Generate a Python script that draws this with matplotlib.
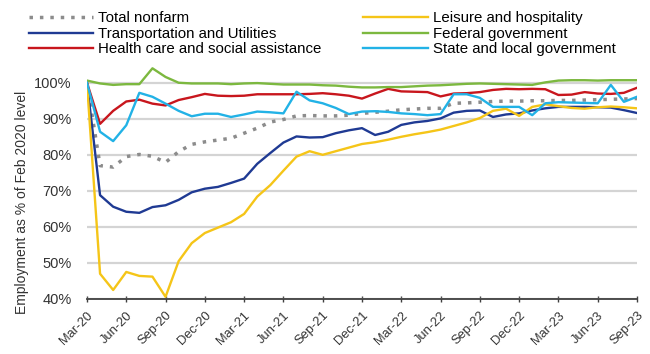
import matplotlib
matplotlib.use("Agg")
import matplotlib.pyplot as plt
import numpy as np

plt.rcParams['font.family'] = ['Liberation Sans', 'DejaVu Sans']

# monthly index, Mar-20 .. Sep-23 (Feb 2020 level = 100)
months = np.arange(43)
tick_labels = ["Mar-20", "Jun-20", "Sep-20", "Dec-20", "Mar-21", "Jun-21", "Sep-21", "Dec-21",
               "Mar-22", "Jun-22", "Sep-22", "Dec-22", "Mar-23", "Jun-23", "Sep-23"]

total_nonfarm = [100, 77, 76.6, 79.5, 80.1, 79.6, 77.9, 80.9, 82.9, 83.6, 84.1, 84.6, 86, 87.4, 89.1,
                 89.8, 90.8, 90.9, 90.8, 90.8, 91, 91.5, 91.8, 92.1, 92.5, 92.7, 92.9, 92.9, 94.3,
                 94.4, 94.6, 94.8, 94.9, 94.9, 95, 95, 95.1, 95.1, 95.2, 95.3, 95.4, 95.5, 95.6]
transport = [100, 68.8, 65.6, 64.2, 63.9, 65.5, 66, 67.5, 69.6, 70.6, 71.1, 72.2, 73.4, 77.5, 80.5,
             83.4, 85.1, 84.8, 84.9, 86, 86.8, 87.4, 85.5, 86.4, 88.3, 89, 89.4, 90.1, 91.7,
             92.2, 92.3, 90.5, 91.2, 91.5, 92.3, 92.9, 93.3, 93.3, 93.3, 93.2, 93.1, 92.4, 91.6]
health = [100, 88.6, 92.2, 94.8, 95.3, 94.2, 93.7, 95.2, 96, 96.9, 96.4, 96.3, 96.4, 96.8, 96.8,
          96.8, 96.8, 96.9, 97.1, 96.8, 96.4, 95.6, 97, 98.3, 97.6, 97.5, 97.4, 96.2, 97,
          97.1, 97.4, 98, 98.3, 98.2, 98.3, 98.2, 96.6, 96.7, 97.4, 97, 96.9, 97.2, 98.6]
leisure = [100, 47, 42.5, 47.5, 46.4, 46.2, 40.6, 50.5, 55.5, 58.3, 59.8, 61.3, 63.6, 68.4, 71.6,
           75.6, 79.5, 81, 80, 81, 82, 83, 83.5, 84.2, 85, 85.7, 86.3, 87, 88,
           89, 90.2, 92.2, 92.8, 90.8, 93.3, 94, 93.5, 93, 92.8, 93.2, 93.4, 93.2, 92.9]
federal = [100.6, 99.8, 99.4, 99.6, 99.6, 104, 101.6, 100, 99.8, 99.8, 99.8, 99.6, 99.8, 99.9, 99.7,
           99.5, 99.5, 99.5, 99.3, 99.2, 98.9, 98.7, 98.7, 98.8, 98.8, 99, 99.2, 99.3, 99.5,
           99.7, 99.8, 99.7, 99.6, 99.5, 99.4, 100.1, 100.6, 100.7, 100.7, 100.6, 100.7, 100.7, 100.7]
state_local = [100, 86.4, 83.8, 88.2, 97.2, 96.1, 94.2, 92.2, 90.7, 91.4, 91.4, 90.5, 91.2, 92, 91.8,
               91.5, 97.5, 95.1, 94.3, 93, 91.3, 92, 92.1, 91.9, 91.5, 91.3, 91, 91.3, 96.8,
               96.8, 95.8, 93.3, 93.3, 93.3, 91, 94.3, 94.6, 94.5, 94.4, 94.3, 99.4, 94.7, 96.1]

fig = plt.figure(figsize=(6.5, 3.54), dpi=100)
ax = fig.add_axes([0.1338, 0.1554, 0.8462, 0.6618])

lw = 1.7
ax.plot(months, total_nonfarm, color="#8c8c8c", lw=2.5, linestyle=(0, (1, 2.0)),
        dash_capstyle="butt", label="Total nonfarm")
ax.plot(months, transport, color="#1f3a93", lw=lw, label="Transportation and Utilities")
ax.plot(months, health, color="#c8161d", lw=lw, label="Health care and social assistance")
ax.plot(months, leisure, color="#f5c518", lw=lw, label="Leisure and hospitality")
ax.plot(months, federal, color="#7cb83f", lw=lw, label="Federal government")
ax.plot(months, state_local, color="#22b2e6", lw=lw, label="State and local government")

ax.set_xlim(0, 42)
ax.set_ylim(40, 105)
ax.set_yticks(np.arange(40, 101, 10))
ax.set_yticklabels([f"{v}%" for v in range(40, 101, 10)])
ax.set_xticks(np.arange(0, 43, 3))
ax.set_xticklabels(tick_labels, rotation=45, ha="right", rotation_mode="anchor")

ax.grid(axis="y", color="#d4d4d4", lw=1.6)
ax.set_axisbelow(True)
for side in ["left", "right", "top"]:
    ax.spines[side].set_visible(False)
ax.spines["bottom"].set_color("#404040")
ax.spines["bottom"].set_linewidth(1.3)
ax.tick_params(axis="y", length=0, pad=11, labelsize=10.5, labelcolor="#333333")
ax.tick_params(axis="x", direction="inout", length=5, width=1, color="#404040",
               pad=5, labelsize=9.3, labelcolor="#333333")
ax.set_ylabel("Employment as % of Feb 2020 level", fontsize=10, color="#333333")
ax.yaxis.set_label_coords(-0.105, 0.414)

handles, labels = ax.get_legend_handles_labels()
fig.legend(handles, labels, ncol=2, loc="upper left", bbox_to_anchor=(0.035, 0.985),
           frameon=False, fontsize=10.8, handlelength=4.3, handletextpad=0.35,
           columnspacing=2.75, labelspacing=0.1, borderaxespad=0)

fig.savefig("out.png", dpi=100, facecolor="white")
